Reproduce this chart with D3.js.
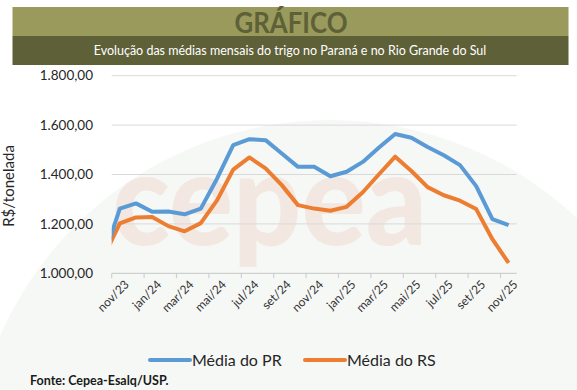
<!DOCTYPE html>
<html>
<head>
<meta charset="utf-8">
<script src="https://cdn.jsdelivr.net/npm/d3@7"></script>
<style>
  body { margin: 0; background: #fff; }
  svg { display: block; font-family: Lato, "Open Sans", sans-serif; }
</style>
</head>
<body>
<div id="chart"></div>
<script>
// Monthly averages of wheat (R$/tonelada)
const months = ["nov/23", "dez/23", "jan/24", "fev/24", "mar/24", "abr/24", "mai/24", "jun/24", "jul/24",
  "ago/24", "set/24", "out/24", "nov/24", "dez/24", "jan/25", "fev/25", "mar/25", "abr/25", "mai/25",
  "jun/25", "jul/25", "ago/25", "set/25", "out/25", "nov/25"];
const mediaPR = [1262, 1283, 1249, 1250, 1239, 1262, 1383, 1519, 1543, 1539, 1485, 1431, 1431,
  1393, 1411, 1451, 1509, 1564, 1549, 1511, 1478, 1438, 1353, 1219, 1195];
const mediaRS = [1202, 1226, 1228, 1191, 1170, 1203, 1295, 1420, 1469, 1425, 1357, 1276, 1262,
  1253, 1269, 1328, 1401, 1472, 1414, 1349, 1316, 1294, 1260, 1138, 1042];
// previous month, only its segment is visible at the left edge
const leadMonth = "out/23";
const leadPR = 1062;
const leadRS = 1066;
const yTicks = [1000, 1200, 1400, 1600, 1800];

const width = 577;
const height = 390;
const margin = { left: 111.7, right: 516.7, top: 75.7, bottom: 273.3 };

const svg = d3.select("#chart").append("svg")
  .attr("width", width)
  .attr("height", height)
  .attr("viewBox", [0, 0, width, height]);

// faint watermark background
svg.append("circle")
  .attr("cx", 330).attr("cy", 480).attr("r", 360)
  .attr("fill", "#f6f8f6");
svg.append("text")
  .attr("x", 112).attr("y", 245)
  .attr("font-size", 130).attr("font-weight", 900)
  .attr("textLength", 315).attr("lengthAdjust", "spacingAndGlyphs")
  .attr("fill", "#f1d3c8").attr("opacity", 0.45)
  .text("cepea");

// header bars
svg.append("rect").attr("x", 12.5).attr("y", 7).attr("width", 556).attr("height", 29).attr("fill", "#999a5b");
svg.append("rect").attr("x", 12.5).attr("y", 36).attr("width", 556).attr("height", 29).attr("fill", "#5e6038");
svg.append("text")
  .attr("x", 291).attr("y", 33)
  .attr("text-anchor", "middle")
  .attr("font-size", 28).attr("font-weight", 700)
  .attr("textLength", 113).attr("lengthAdjust", "spacingAndGlyphs")
  .attr("fill", "#5e6038")
  .text("GRÁFICO");
svg.append("text")
  .attr("x", 290).attr("y", 55)
  .attr("text-anchor", "middle")
  .attr("font-size", 12.5)
  .attr("fill", "#ffffff")
  .text("Evolução das médias mensais do trigo no Paraná e no Rio Grande do Sul");

// scales
const x = d3.scaleBand().domain(months).range([margin.left, margin.right]);
const xLead = d3.scaleBand()
  .domain([leadMonth, ...months])
  .range([margin.left - x.step(), margin.right]);
const y = d3.scaleLinear().domain([1000, 1800]).range([margin.bottom, margin.top]);

const br = d3.formatLocale({ decimal: ",", thousands: ".", grouping: [3], currency: ["R$", ""] });
const fmt = br.format(",.2f");

// gridlines
svg.append("g")
  .selectAll("line")
  .data(yTicks.slice(1))
  .join("line")
  .attr("x1", margin.left).attr("x2", margin.right)
  .attr("y1", d => y(d)).attr("y2", d => y(d))
  .attr("stroke", "#d9d9d9").attr("stroke-width", 1);

// y labels
svg.append("g")
  .selectAll("text")
  .data(yTicks)
  .join("text")
  .attr("x", 93).attr("y", d => y(d))
  .attr("dy", "0.35em")
  .attr("text-anchor", "end")
  .attr("font-size", 13.5)
  .attr("fill", "#262626")
  .text(d => fmt(d));

svg.append("text")
  .attr("transform", `translate(14,186) rotate(-90)`)
  .attr("text-anchor", "middle")
  .attr("font-size", 15)
  .attr("fill", "#262626")
  .text("R$/tonelada");

// x axis
const xAxis = svg.append("g");
xAxis.append("line")
  .attr("x1", margin.left).attr("x2", margin.right)
  .attr("y1", margin.bottom).attr("y2", margin.bottom)
  .attr("stroke", "#d0d0d0").attr("stroke-width", 1.2);
xAxis.selectAll(".tick")
  .data(months.filter((d, i) => i % 2 === 0))
  .join("line")
  .attr("x1", d => x(d)).attr("x2", d => x(d))
  .attr("y1", margin.bottom).attr("y2", margin.bottom + 5)
  .attr("stroke", "#d0d0d0").attr("stroke-width", 1.2);
xAxis.selectAll(".lbl")
  .data(months.filter((d, i) => i % 2 === 0))
  .join("text")
  .attr("transform", d => `translate(${x(d) + x.bandwidth() / 2 + 4},${margin.bottom + 6}) rotate(-45)`)
  .attr("text-anchor", "end")
  .attr("dy", "0.7em")
  .attr("font-size", 12)
  .attr("fill", "#333")
  .text(d => d);

// lines
svg.append("clipPath").attr("id", "plot")
  .append("rect")
  .attr("x", margin.left).attr("y", 0)
  .attr("width", margin.right - margin.left).attr("height", height);

const line = d3.line()
  .x(d => xLead(d.month) + xLead.bandwidth() / 2)
  .y(d => y(d.value));

const series = [
  { name: "Média do PR", color: "#5b9bd5", lead: leadPR, values: mediaPR },
  { name: "Média do RS", color: "#ed7d31", lead: leadRS, values: mediaRS },
];

svg.append("g")
  .attr("clip-path", "url(#plot)")
  .selectAll("path")
  .data(series.slice().reverse())
  .join("path")
  .attr("fill", "none")
  .attr("stroke", d => d.color)
  .attr("stroke-width", 4)
  .attr("stroke-linejoin", "round")
  .attr("d", d => line([{ month: leadMonth, value: d.lead },
    ...d.values.map((v, i) => ({ month: months[i], value: v }))]));

// legend
const legendX = [150, 305];
const legend = svg.append("g")
  .selectAll("g")
  .data(series)
  .join("g")
  .attr("transform", (d, i) => `translate(${legendX[i]},360)`);
legend.append("line")
  .attr("x1", 0).attr("x2", 40)
  .attr("stroke", d => d.color).attr("stroke-width", 4).attr("stroke-linecap", "round");
legend.append("text")
  .attr("x", 42).attr("dy", "0.36em")
  .attr("font-size", 16)
  .attr("fill", "#262626")
  .text(d => d.name);

svg.append("text")
  .attr("x", 30).attr("y", 385)
  .attr("font-size", 12.5).attr("font-weight", 700)
  .attr("fill", "#1a1a1a")
  .text("Fonte: Cepea-Esalq/USP.");
</script>
</body>
</html>
